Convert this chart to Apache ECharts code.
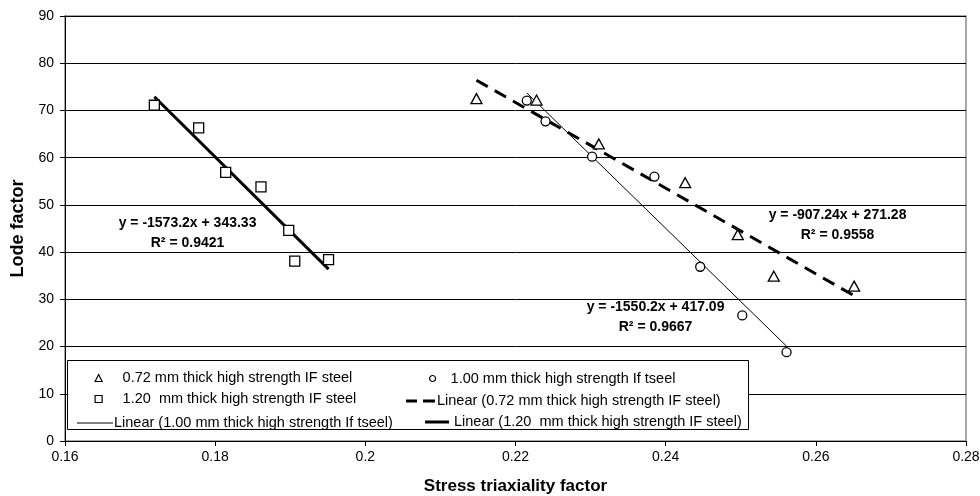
<!DOCTYPE html>
<html><head><meta charset="utf-8">
<script src="https://cdn.jsdelivr.net/npm/echarts@6/dist/echarts.min.js"></script>
<style>html,body{margin:0;padding:0;background:#fff}#c{width:980px;height:496px}</style>
</head><body><div id="c"></div>
<script>
// ---- data ----
const seriesNames = [
  '0.72 mm thick high strength IF steel',
  '1.00 mm thick high strength If tseel',
  '1.20  mm thick high strength IF steel'
];
const trendNames = [
  'Linear (0.72 mm thick high strength IF steel)',
  'Linear (1.00 mm thick high strength If tseel)',
  'Linear (1.20  mm thick high strength IF steel)'
];
const x072 = [0.2148, 0.2228, 0.2311, 0.2426, 0.2496, 0.2544, 0.2651];
const y072 = [72.5, 72.2, 62.9, 54.7, 43.7, 34.9, 32.8];
const x100 = [0.2215, 0.2240, 0.2302, 0.2385, 0.2446, 0.2502, 0.2561];
const y100 = [72.1, 67.7, 60.2, 56.0, 36.9, 26.6, 18.8];
const x120 = [0.1719, 0.1778, 0.1814, 0.1861, 0.1898, 0.1906, 0.1951];
const y120 = [71.1, 66.3, 56.9, 53.8, 44.6, 38.1, 38.4];
const trendSlopes = [-907.24, -1550.2, -1573.2];
const trendIntercepts = [271.28, 417.09, 343.33];
const trendR2 = ['0.9558', '0.9667', '0.9421'];
const eqAnchorX = [0.26289, 0.23865, 0.17632];
const eqAnchorY = [45.64, 26.15, 44.05];
const xMin = 0.16, xMax = 0.28, xStep = 0.02;
const yMin = 0, yMax = 90, yStep = 10;
const xTitle = 'Stress triaxiality factor';
const yTitle = 'Lode factor';

// ---- build ----
const FONT = 'Liberation Sans, Arial, sans-serif';
const xs = [x072, x100, x120], ys = [y072, y100, y120];
const pts = xs.map((arr, i) => arr.map((x, j) => [x, ys[i][j]]));
const trend = xs.map((arr, i) => {
  const a = Math.min(...arr), b = Math.max(...arr);
  return [[a, trendSlopes[i] * a + trendIntercepts[i]], [b, trendSlopes[i] * b + trendIntercepts[i]]];
});
const symbols = ['triangle', 'circle', 'rect'];
const symSizes = [[11, 10], 9, 10];

const series = [];
for (let i = 0; i < 3; i++) {
  series.push({
    name: seriesNames[i], type: 'scatter', data: pts[i],
    symbol: symbols[i], symbolSize: symSizes[i], z: 3,
    itemStyle: { color: '#fff', borderColor: '#000', borderWidth: 1.3, opacity: 1 }
  });
}
const lineWidths = [3, 1, 3];
const lineTypes = [[13, 8], 'solid', 'solid'];
for (let i = 0; i < 3; i++) {
  series.push({
    name: trendNames[i], type: 'line', data: trend[i], symbol: 'none', z: 2,
    itemStyle: { color: '#000' },
    lineStyle: { color: '#000', width: lineWidths[i], type: lineTypes[i] }
  });
}

const ltext = { fontFamily: FONT, fontSize: 14.5, color: '#000' };
function leg(name, left, cy, w, h, extra) {
  return Object.assign({
    data: [name], left: left, top: cy - h / 2, itemWidth: w, itemHeight: h,
    padding: 0, itemGap: 0, selectedMode: false, orient: 'horizontal', z: 6,
    textStyle: Object.assign({}, ltext)
  }, extra || {});
}
const rowY = [374, 395, 416];
const legends = [
  leg(seriesNames[0], 94.5, rowY[0], 7, 7, { itemStyle: { borderWidth: 1.2, borderColor: '#000', color: '#fff' }, textStyle: Object.assign({}, ltext, { padding: [0, 0, 0, 15.5] }) }),
  leg(seriesNames[1], 429, rowY[0], 6, 6, { itemStyle: { borderWidth: 1.2, borderColor: '#000', color: '#fff' }, textStyle: Object.assign({}, ltext, { padding: [0, 0, 0, 10] }) }),
  leg(seriesNames[2], 94.5, rowY[1], 7, 7, { itemStyle: { borderWidth: 1.2, borderColor: '#000', color: '#fff' }, textStyle: Object.assign({}, ltext, { padding: [0, 0, 0, 15.5] }) }),
  leg(trendNames[0], 406, rowY[1], 29, 3, { icon: 'path://M0,0h11v3h-11z M17,0h12v3h-12z', itemStyle: { color: '#000', borderWidth: 0 }, textStyle: Object.assign({}, ltext, { padding: [0, 0, 0, -3] }) }),
  leg(trendNames[1], 77, rowY[2], 36, 1, { icon: 'rect', itemStyle: { color: '#000', borderWidth: 0 }, textStyle: Object.assign({}, ltext, { padding: [0, 0, 0, -4] }) }),
  leg(trendNames[2], 425, rowY[2], 24, 3, { icon: 'rect', itemStyle: { color: '#000', borderWidth: 0 }, textStyle: Object.assign({}, ltext, { padding: [0, 0, 0, 0] }) })
];

const chart = echarts.init(document.getElementById('c'), null, { renderer: 'canvas' });
chart.setOption({
  animation: false,
  backgroundColor: '#fff',
  grid: { left: 65, right: 14, top: 16, bottom: 55, containLabel: false, outerBoundsMode: 'none', show: true, borderColor: '#8c8c8c', borderWidth: 1.5, backgroundColor: 'transparent' },
  xAxis: {
    type: 'value', min: xMin, max: xMax, interval: xStep,
    name: xTitle, nameLocation: 'middle', nameGap: 37,
    nameTextStyle: { fontFamily: FONT, fontWeight: 'bold', fontSize: 17, color: '#000' },
    axisLine: { onZero: false, lineStyle: { color: '#000', width: 1 } },
    axisTick: { show: true, length: 5, lineStyle: { color: '#000' } },
    axisLabel: { fontFamily: FONT, fontSize: 14, color: '#000', margin: 9, formatter: v => String(+v.toFixed(2)) },
    splitLine: { show: false }
  },
  yAxis: {
    type: 'value', min: yMin, max: yMax, interval: yStep,
    name: yTitle, nameLocation: 'middle', nameGap: 37, nameRotate: 90,
    nameTextStyle: { fontFamily: FONT, fontWeight: 'bold', fontSize: 18, color: '#000' },
    axisLine: { show: true, lineStyle: { color: '#000', width: 1 } },
    axisTick: { show: true, length: 5, lineStyle: { color: '#000' } },
    axisLabel: { fontFamily: FONT, fontSize: 14, color: '#000', margin: 11 },
    splitLine: { show: true, lineStyle: { color: '#000', width: 1 } }
  },
  legend: legends,
  series: series
});

// legend frame and trendline equations
const gfx = [{
  type: 'rect', z: 5, shape: { x: 67.5, y: 360.5, width: 681, height: 69 },
  style: { fill: '#fff', stroke: '#000', lineWidth: 1 }
}];
for (let i = 0; i < 3; i++) {
  const p = chart.convertToPixel({ gridIndex: 0 }, [eqAnchorX[i], eqAnchorY[i]]);
  const sign = trendIntercepts[i] >= 0 ? ' + ' : ' - ';
  gfx.push({
    type: 'text', z: 7, x: p[0], y: p[1],
    style: {
      text: 'y = ' + trendSlopes[i] + 'x' + sign + Math.abs(trendIntercepts[i]) + '\nR² = ' + trendR2[i],
      fontFamily: FONT, fontWeight: 'bold', fontSize: 14, lineHeight: 20,
      fill: '#000', align: 'center', verticalAlign: 'middle'
    }
  });
}
chart.setOption({ graphic: gfx });
</script>
</body></html>
